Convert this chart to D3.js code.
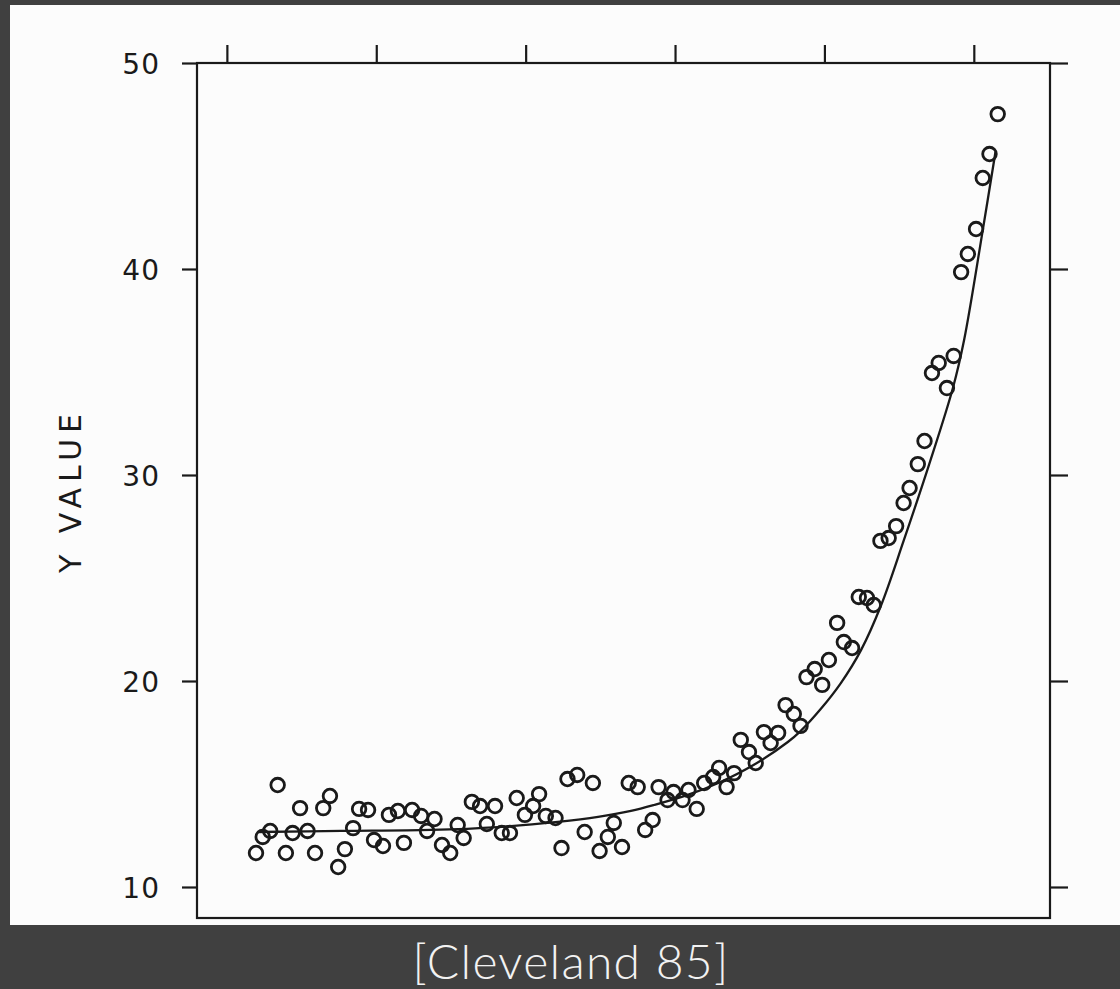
<!DOCTYPE html>
<html>
<head>
<meta charset="utf-8">
<script src="https://cdn.jsdelivr.net/npm/d3@7"></script>
<style>
  html, body { margin: 0; padding: 0; background: #404040; }
  svg { display: block; }
</style>
</head>
<body>
<script>
// x values of the points (no labels on the x axis in the original)
const xs = [3.9, 4.8, 5.8, 6.8, 7.9, 8.8, 9.8, 10.8, 11.8, 12.9,
  13.8, 14.9, 15.8, 16.9, 17.7, 18.9, 19.7, 20.9, 21.7, 22.9,
  23.7, 24.8, 26.0, 26.8, 27.8, 28.8, 29.9, 30.9, 31.7, 32.8,
  33.9, 34.8, 35.9, 36.8, 37.9, 38.8, 39.9, 41.0, 41.8, 42.7,
  44.0, 44.8, 45.6, 46.9, 47.9, 49.0, 49.9, 51.0, 51.8, 52.9,
  53.8, 55.0, 56.0, 57.0, 57.8, 59.0, 59.8, 61.0, 61.8, 62.9,
  63.9, 65.1, 65.9, 66.9, 67.9, 68.8, 69.9, 70.8, 71.9, 72.8,
  73.8, 74.8, 75.9, 76.8, 77.6, 78.7, 79.7, 80.6, 81.7, 82.6,
  83.7, 84.6, 85.7, 86.6, 87.5, 88.6, 89.6, 90.6, 91.4, 92.5,
  93.4, 94.4, 95.3, 96.4, 97.3, 98.3, 99.2, 100.3, 101.2, 102.1, 103.2];

const ys = [11.65, 12.43, 12.72, 14.95, 11.65, 12.62, 13.83, 12.72, 11.65, 13.83,
  14.42, 10.97, 11.84, 12.86, 13.79, 13.74, 12.28, 11.99, 13.50, 13.69,
  12.14, 13.74, 13.45, 12.72, 13.30, 12.04, 11.65, 13.01, 12.38, 14.13,
  13.93, 13.06, 13.93, 12.62, 12.62, 14.32, 13.50, 13.93, 14.51, 13.45,
  13.35, 11.89, 15.24, 15.44, 12.67, 15.05, 11.75, 12.43, 13.11, 11.94,
  15.05, 14.85, 12.77, 13.25, 14.85, 14.22, 14.61, 14.22, 14.71, 13.79,
  15.05, 15.34, 15.78, 14.85, 15.53, 17.14, 16.55, 16.02, 17.52, 16.99,
  17.48, 18.83, 18.40, 17.82, 20.19, 20.58, 19.81, 21.02, 22.82, 21.89,
  21.60, 24.08, 24.03, 23.69, 26.80, 26.94, 27.52, 28.64, 29.37, 30.53,
  31.65, 34.95, 35.44, 34.22, 35.78, 39.85, 40.73, 41.94, 44.42, 45.58, 47.52];

// fitted curve
const fitX = [4.1, 15.3, 27.3, 36.3, 44.3, 49.7, 54.1, 57.2, 61.7, 66.1, 70.5,
  75.1, 76.8, 79.5, 82.2, 84.9, 87.6, 90.6, 94.0, 97.2, 98.7, 101.2, 102.9];
const fitY = [12.67, 12.72, 12.77, 12.91, 13.16, 13.40, 13.69, 13.98, 14.47, 15.10, 15.92,
  17.04, 17.57, 18.64, 19.90, 21.50, 23.69, 26.80, 30.49, 34.22, 36.55, 41.89, 45.68];

const yTicks = [10, 20, 30, 40, 50];
const xTicks = [0, 20, 40, 60, 80, 100];
const yTitle = "Y VALUE";
const caption = "[Cleveland 85]";

const width = 1120, height = 989;

const x = d3.scaleLinear().domain([-4, 110.2]).range([197, 1050]);
const y = d3.scaleLinear().domain([8.495, 50]).range([918, 63]);

const svg = d3.select("body").append("svg")
  .attr("width", width)
  .attr("height", height);

// scanned page
svg.append("rect")
  .attr("x", 10).attr("y", 5)
  .attr("width", width - 10).attr("height", 920)
  .attr("fill", "#fcfcfc");

const ink = "#1a1a1a";

// frame
svg.append("rect")
  .attr("x", x.range()[0]).attr("y", y.range()[1])
  .attr("width", x.range()[1] - x.range()[0])
  .attr("height", y.range()[0] - y.range()[1])
  .attr("fill", "none")
  .attr("stroke", ink)
  .attr("stroke-width", 2.2);

// left axis
const yAxis = d3.axisLeft(y).tickValues(yTicks).tickSize(15).tickPadding(22).tickSizeOuter(0);
const gl = svg.append("g")
  .attr("transform", `translate(${x.range()[0]},0)`)
  .call(yAxis);
gl.select(".domain").remove();
gl.selectAll("line").attr("stroke", ink).attr("stroke-width", 2.2);
gl.selectAll("text")
  .attr("fill", ink)
  .style("font-family", "DejaVu Sans, sans-serif")
  .style("font-size", "28px")
  .style("letter-spacing", "1px")
  .attr("dy", "0.36em");

// right axis, no labels
const gr = svg.append("g")
  .attr("transform", `translate(${x.range()[1]},0)`)
  .call(d3.axisRight(y).tickValues(yTicks).tickSize(18).tickFormat("").tickSizeOuter(0));
gr.select(".domain").remove();
gr.selectAll("line").attr("stroke", ink).attr("stroke-width", 2.2);

// top axis, no labels
const gt = svg.append("g")
  .attr("transform", `translate(0,${y.range()[1]})`)
  .call(d3.axisTop(x).tickValues(xTicks).tickSize(18).tickFormat("").tickSizeOuter(0));
gt.select(".domain").remove();
gt.selectAll("line").attr("stroke", ink).attr("stroke-width", 2.2);

// y title
svg.append("text")
  .attr("transform", `translate(81,${(y.range()[0] + y.range()[1]) / 2}) rotate(-90)`)
  .attr("text-anchor", "middle")
  .attr("fill", ink)
  .style("font-family", "DejaVu Sans, sans-serif")
  .style("font-size", "30px")
  .style("letter-spacing", "6px")
  .text(yTitle);

// fitted curve
const fit = fitX.map((d, i) => [d, fitY[i]]);
svg.append("path")
  .datum(fit)
  .attr("fill", "none")
  .attr("stroke", ink)
  .attr("stroke-width", 2.3)
  .attr("d", d3.line().x(d => x(d[0])).y(d => y(d[1])).curve(d3.curveCatmullRom.alpha(0.5)));

// points
const pts = xs.map((d, i) => ({ x: d, y: ys[i] }));
svg.append("g")
  .selectAll("circle")
  .data(pts)
  .join("circle")
  .attr("cx", d => x(d.x))
  .attr("cy", d => y(d.y))
  .attr("r", 6.8)
  .attr("fill", "none")
  .attr("stroke", ink)
  .attr("stroke-width", 2.8);

// caption
svg.append("text")
  .attr("x", 571)
  .attr("y", 979)
  .attr("text-anchor", "middle")
  .attr("fill", "#f2f2f2")
  .style("font-family", "Lato, 'Open Sans', sans-serif")
  .style("font-weight", 300)
  .style("font-size", "48px")
  .style("letter-spacing", "1.3px")
  .text(caption);
</script>
</body>
</html>
